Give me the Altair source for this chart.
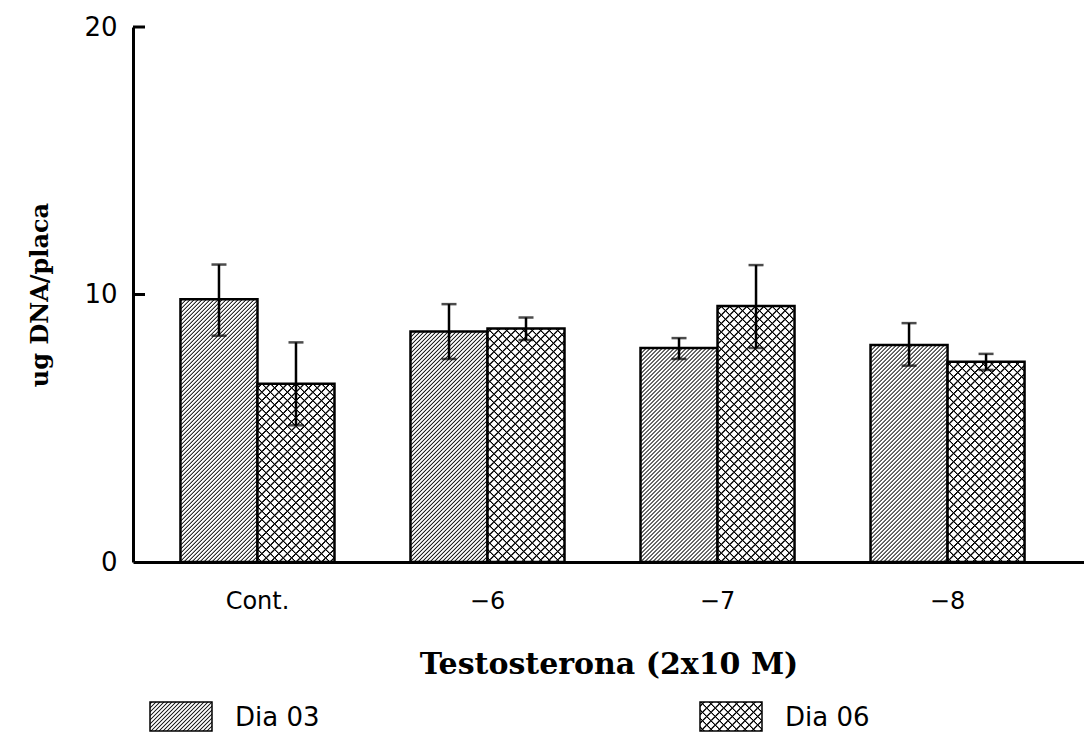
import altair as alt
import pandas as pd

# ---------------- data ----------------
categories = ["Cont.", "−6", "−7", "−8"]
series = ["Dia 03", "Dia 06"]
dia03 = [9.82, 8.62, 8.00, 8.11]
dia06 = [6.66, 8.73, 9.57, 7.49]
dia03_lo = [8.46, 7.59, 7.59, 7.34]
dia03_hi = [11.12, 9.64, 8.37, 8.93]
dia06_lo = [5.11, 8.30, 8.00, 7.18]
dia06_hi = [8.21, 9.14, 11.10, 7.78]
y_ticks = [0, 10, 20]
x_title = "Testosterona (2x10 M)"
y_title = "ug DNA/placa"

rows = []
for i, c in enumerate(categories):
    rows.append({"cat": c, "dia": series[0], "val": dia03[i], "lo": dia03_lo[i], "hi": dia03_hi[i]})
    rows.append({"cat": c, "dia": series[1], "val": dia06[i], "lo": dia06_lo[i], "hi": dia06_hi[i]})
df = pd.DataFrame(rows)
df_ticks = pd.DataFrame({"v": [10, 20]})
df_leg = pd.DataFrame({"dia": series})

# ---------------- layout ----------------
W, H = 951, 535
Y_MAX = 20
BAR_W = 77


def hatch(w, h, period, core, soft, direction, fg="black", bg="white"):
    """Linear gradient (objectBoundingBox units) drawing soft-edged 45deg stripes.
    period / core / soft are measured along the diagonal coordinate (x +/- y)."""
    L = w + h
    s = L / (w * w + h * h)
    if direction == "/":
        x1, y1, x2, y2 = 0, 0, w * s, h * s
    else:
        x1, y1, x2, y2 = 0, 1, w * s, 1 - h * s
    stops = []
    pos = period / 2.0
    last = 0.0
    while pos - core / 2.0 - soft < L:
        pts = [(pos - core / 2.0 - soft, bg), (pos - core / 2.0, fg),
               (pos + core / 2.0, fg), (pos + core / 2.0 + soft, bg)]
        for o, c in pts:
            o = min(1.0, max(last, o / L))
            stops.append({"offset": round(o, 5), "color": c})
            last = o
        pos += period
    return {"gradient": "linear", "x1": x1, "y1": y1, "x2": x2, "y2": y2, "stops": stops}


H03 = dict(period=4.0, core=0.3, soft=1.1, fg="#222222")
H06 = dict(period=8.5, core=0.9, soft=1.0, fg="black")

x_axis = alt.Axis(
    title=x_title, titleFont="DejaVu Serif", titleFontWeight="bold", titleFontSize=30,
    titleColor="black", titleX=W / 2, titleY=102, titleAlign="center", titleBaseline="middle",
    labelFont="DejaVu Sans", labelFontSize=24, labelColor="black", labelPadding=27, labelAngle=0,
    ticks=False, tickSize=0, domainColor="black", domainWidth=3, grid=False,
)
y_axis = alt.Axis(
    title=y_title, titleFont="DejaVu Serif", titleFontWeight="bold", titleFontSize=24,
    titleColor="black", titleAngle=270, titleX=-93, titleY=H / 2, titleAlign="center",
    titleBaseline="middle",
    labelFont="DejaVu Sans", labelFontSize=26, labelColor="black", labelPadding=16,
    ticks=False, tickSize=0, domainColor="black", domainWidth=3, grid=False, values=y_ticks,
)

x_scale = alt.Scale(domain=categories, paddingInner=0.3304, paddingOuter=0.2324, align=0.444, round=False)
y_scale = alt.Scale(domain=[0, Y_MAX], nice=False, zero=True)
xo_scale = alt.Scale(domain=series, paddingInner=0, paddingOuter=0)

X = alt.X("cat:N", sort=categories, scale=x_scale, axis=x_axis)
XO = alt.XOffset("dia:N", scale=xo_scale, sort=series)

layers = []
for i, c in enumerate(categories):
    for d, vals in ((series[0], dia03), (series[1], dia06)):
        h = vals[i] * H / Y_MAX
        base = alt.Chart(df).transform_filter(
            (alt.datum.cat == c) & (alt.datum.dia == d)
        )
        enc = dict(x=X, xOffset=XO, y=alt.Y("val:Q", scale=y_scale, axis=y_axis))
        if d == series[0]:
            layers.append(base.mark_bar(fill=hatch(BAR_W, h, direction="/", **H03),
                                        stroke="black", strokeWidth=2.5).encode(**enc))
        else:
            layers.append(base.mark_bar(fill=hatch(BAR_W, h, direction="/", **H06),
                                        strokeWidth=0).encode(**enc))
            layers.append(base.mark_bar(fill=hatch(BAR_W, h, direction="\\", bg="rgba(255,255,255,0)",
                                                   **H06),
                                        stroke="black", strokeWidth=2.5).encode(**enc))

# error bars
err_rule = alt.Chart(df).mark_rule(color="black", strokeWidth=2.5).encode(
    x=X, xOffset=XO,
    y=alt.Y("lo:Q", scale=y_scale, axis=y_axis), y2="hi:Q",
)
cap_lo = alt.Chart(df).mark_tick(color="black", size=15, thickness=2.5).encode(
    x=X, xOffset=XO, y=alt.Y("lo:Q", scale=y_scale, axis=y_axis))
cap_hi = alt.Chart(df).mark_tick(color="black", size=15, thickness=2.5).encode(
    x=X, xOffset=XO, y=alt.Y("hi:Q", scale=y_scale, axis=y_axis))

# inward y-axis ticks
ytick = alt.Chart(df_ticks).mark_rule(color="black", strokeWidth=3).encode(
    y=alt.Y("v:Q", scale=y_scale, axis=y_axis), x=alt.value(0), x2=alt.value(12))

# custom legend (hatched swatches)
leg_layers = []
SW_W, SW_H = 62, 29
sw_x = [17, 567]
tx_x = [102, 652]
for j, d in enumerate(series):
    b = alt.Chart(df_leg).transform_filter(alt.datum.dia == d)
    pos = dict(x=alt.value(sw_x[j]), x2=alt.value(sw_x[j] + SW_W), y=alt.value(675), y2=alt.value(675 + SW_H))
    if j == 0:
        leg_layers.append(b.mark_rect(fill=hatch(SW_W, SW_H, direction="/", **H03),
                                      stroke="black", strokeWidth=1.5).encode(**pos))
    else:
        leg_layers.append(b.mark_rect(fill=hatch(SW_W, SW_H, direction="/", **H06), strokeWidth=0).encode(**pos))
        leg_layers.append(b.mark_rect(fill=hatch(SW_W, SW_H, direction="\\", bg="rgba(255,255,255,0)", **H06),
                                      stroke="black", strokeWidth=1.5).encode(**pos))
    leg_layers.append(b.mark_text(align="left", baseline="middle", font="DejaVu Sans",
                                  fontSize=26, color="black").encode(
        x=alt.value(tx_x[j]), y=alt.value(691), text="dia:N"))

chart = alt.layer(*layers, err_rule, cap_lo, cap_hi, ytick, *leg_layers).properties(
    width=W, height=H,
    autosize=alt.AutoSizeParams(type="none"),
    padding={"left": 125, "top": 19, "right": 0, "bottom": 175},
    background="white",
).configure_view(stroke=None)

chart.save("out.html", embed_options={"renderer": "svg", "actions": False})
